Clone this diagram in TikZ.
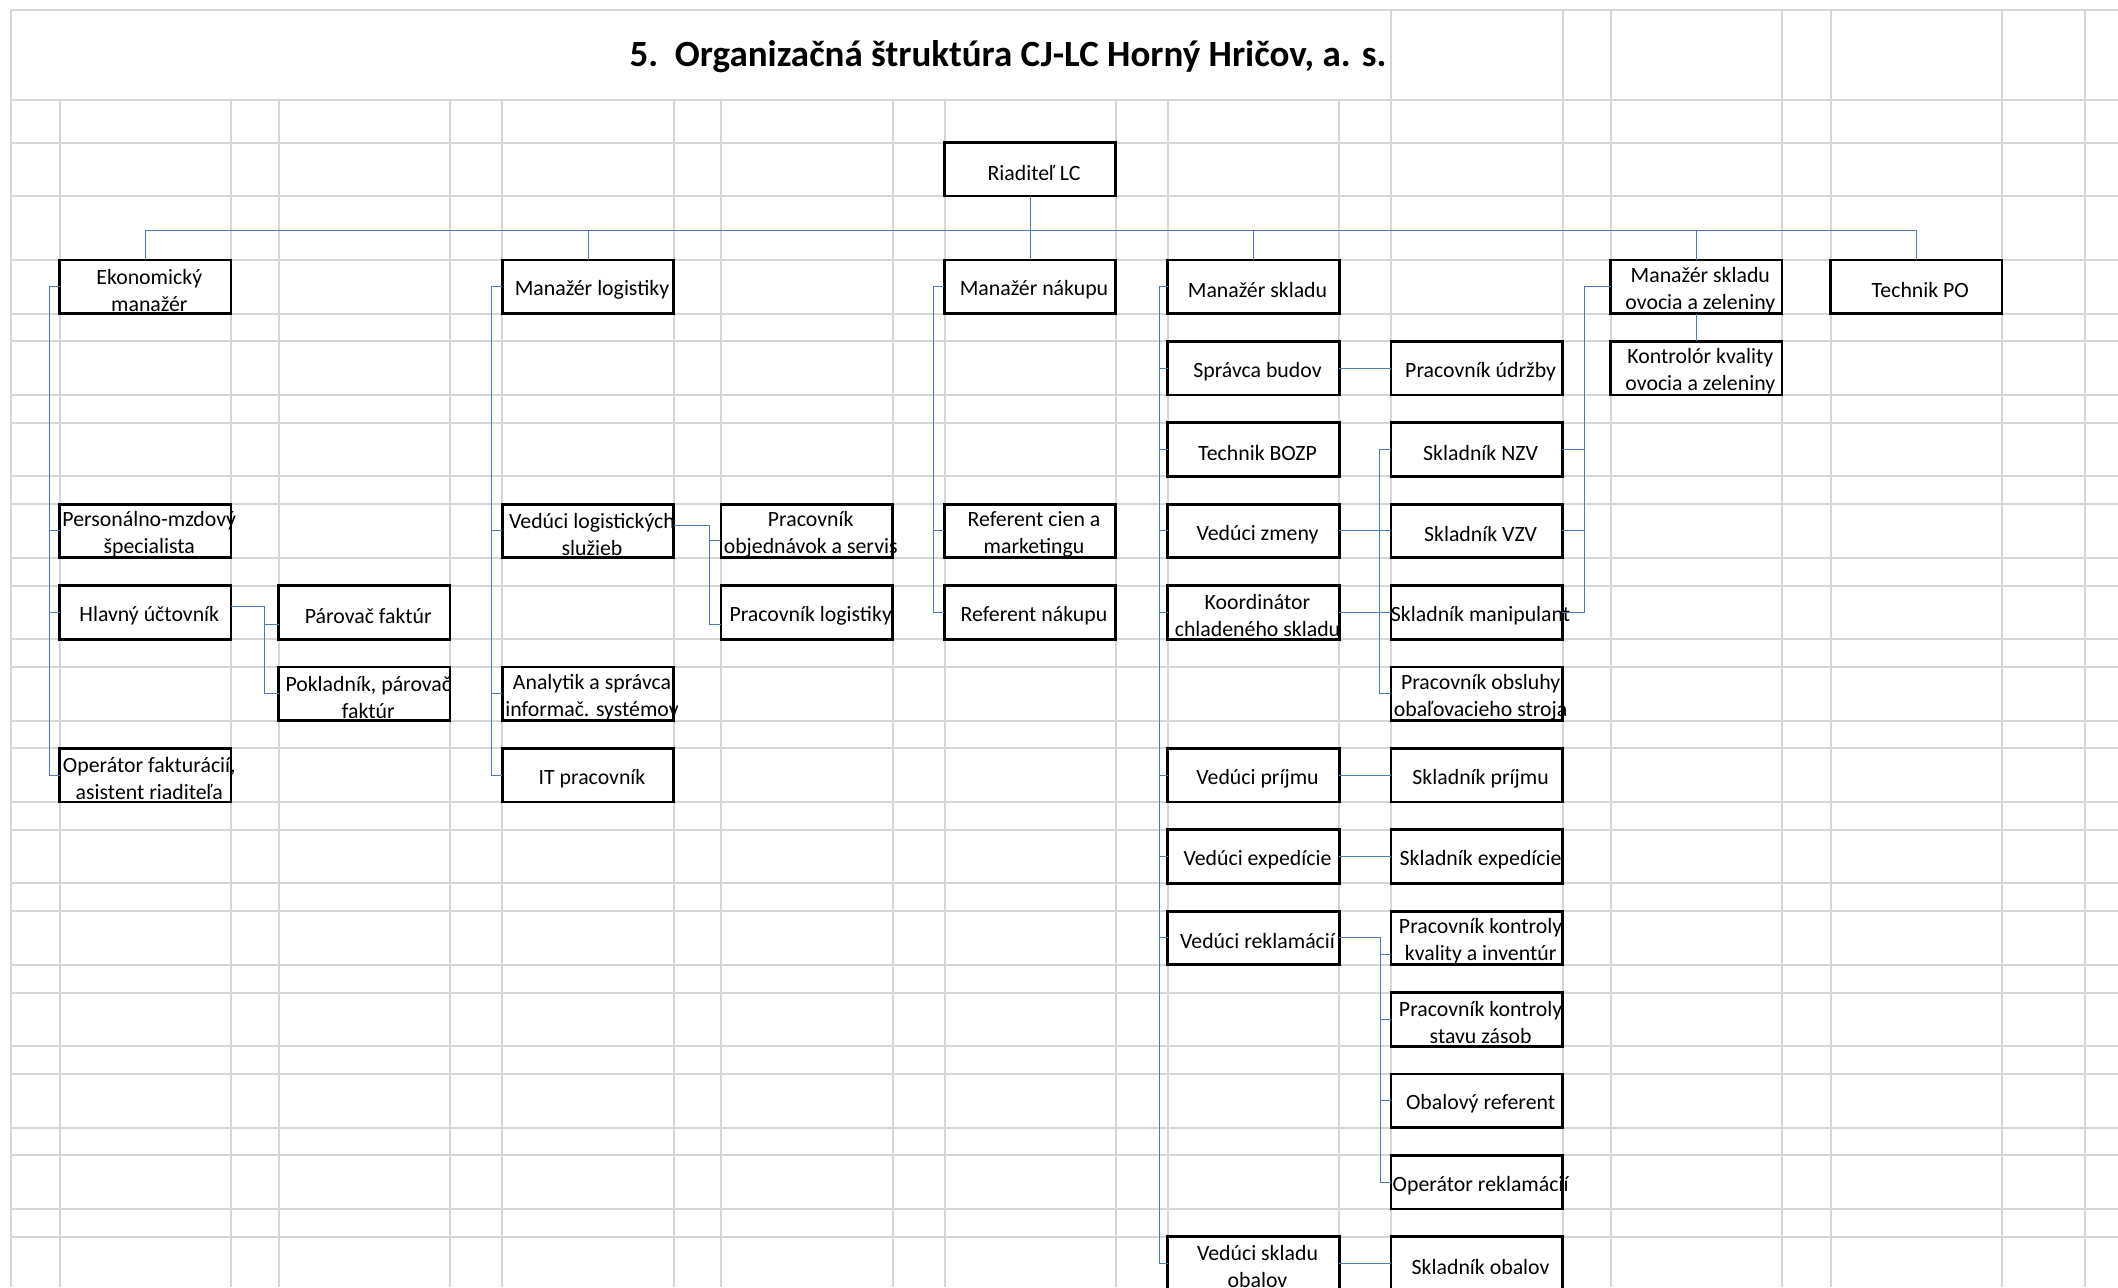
\documentclass[tikz,border=0pt]{standalone}
\usepackage{fontspec}
\setmainfont{Carlito}
\usetikzlibrary{calc}

\definecolor{modrasp}{RGB}{74,126,187}
\definecolor{sivagrid}{RGB}{214,214,214}

\begin{document}
\begin{tikzpicture}[x=0.5pt, y=-0.5pt,
    mriezka/.style={draw=sivagrid, line width=1pt},
    pozicia/.style={
      draw,
      fill=white,
      line width=1.4pt,
      minimum width=85.7pt,
      minimum height=26.75pt,
      inner sep=0pt,
      outer sep=0pt
    },
    popis/.style={
      align=center,
      inner sep=0pt,
      xshift=2pt,
      yshift=-1.7pt,
      font=\fontsize{10.9}{13.5}\selectfont
    },
    spoj/.style={draw=modrasp, line width=0.5pt},
    nadpis/.style={font=\bfseries\fontsize{18.5}{22}\selectfont}
  ]

  \useasboundingbox (0,0) rectangle (2118,1287);
  \clip (0,0) rectangle (2118,1287);
  \fill[white] (0,0) rectangle (2118,1287);

  % mriezka hárku {{{
  \foreach \gx in {59.6,231,278.6,450,502,674,721,892.5,944.5,1115.5,1168,1339}
    \draw[mriezka] (\gx,100) -- (\gx,1287);
  \foreach \gx in {1390.6,1562.7,1610.6,1782,1830.6,2002,2085}
    \draw[mriezka] (\gx,10) -- (\gx,1287);
  \draw[mriezka] (2118,10) -| (11,1287);
  \foreach \gy in {100,142.7,195.7}
    \draw[mriezka] (11,\gy) -- (2118,\gy);
  \foreach \k in {0,...,12} {
    \pgfmathsetmacro\rtop{260+81.4*\k}
    \draw[mriezka] (11,\rtop) -- (2118,\rtop);
    \draw[mriezka] (11,{\rtop+53.5}) -- (2118,{\rtop+53.5});
  }
  % }}}

  \node[nadpis] (titul) at (1008,57)
    {5.\ \ Organizačná štruktúra CJ-LC Horný Hričov, a. s.};

  % vedenie {{{
  \node[pozicia, label={[popis]center:Riaditeľ LC}] (riad) at (1030,169.2) {};
  \node[pozicia, label={[popis]center:Ekonomický\\manažér}] (ekon) at (145.3,286.75) {};
  \node[pozicia, label={[popis]center:Manažér logistiky}] (logi) at (588,286.75) {};
  \node[pozicia, label={[popis]center:Manažér nákupu}] (nakup) at (1030,286.75) {};
  \node[pozicia, label={[popis]center:Manažér skladu}] (sklad) at (1253.5,286.75) {};
  \node[pozicia, label={[popis]center:Manažér skladu\\ovocia a zeleniny}] (ovoc) at (1696.3,286.75) {};
  \node[pozicia, label={[popis]center:Technik PO}] (tpo) at (1916.3,286.75) {};
  % }}}

  % ekonomický úsek {{{
  \node[pozicia, label={[popis]center:Personálno-mzdový\\špecialista}] (pers) at (145.3,530.95) {};
  \node[pozicia, label={[popis]center:Hlavný účtovník}] (hlav) at (145.3,612.35) {};
  \node[pozicia, label={[popis]center:Operátor fakturácií,\\asistent riaditeľa}] (opfak) at (145.3,775.15) {};
  \node[pozicia, label={[popis]center:Párovač faktúr}] (parov) at (364.3,612.35) {};
  \node[pozicia, label={[popis]center:Pokladník, párovač\\faktúr}] (pokl) at (364.3,693.75) {};
  % }}}

  % logistika {{{
  \node[pozicia, label={[popis]center:Vedúci logistických\\služieb}] (vlog) at (588,530.95) {};
  \node[pozicia, label={[popis]center:Analytik a správca\\informač. systémov}] (anal) at (588,693.75) {};
  \node[pozicia, label={[popis]center:IT pracovník}] (itprac) at (588,775.15) {};
  \node[pozicia, label={[popis]center:Pracovník\\objednávok a servis}] (pracobj) at (806.7,530.95) {};
  \node[pozicia, label={[popis]center:Pracovník logistiky}] (praclog) at (806.7,612.35) {};
  % }}}

  % nákup {{{
  \node[pozicia, label={[popis]center:Referent cien a\\marketingu}] (refcien) at (1030,530.95) {};
  \node[pozicia, label={[popis]center:Referent nákupu}] (refnak) at (1030,612.35) {};
  % }}}

  % sklad {{{
  \node[pozicia, label={[popis]center:Správca budov}] (sprava) at (1253.5,368.15) {};
  \node[pozicia, label={[popis]center:Technik BOZP}] (bozp) at (1253.5,449.55) {};
  \node[pozicia, label={[popis]center:Vedúci zmeny}] (vzmeny) at (1253.5,530.95) {};
  \node[pozicia, label={[popis]center:Koordinátor\\chladeného skladu}] (koord) at (1253.5,612.35) {};
  \node[pozicia, label={[popis]center:Vedúci príjmu}] (vprij) at (1253.5,775.15) {};
  \node[pozicia, label={[popis]center:Vedúci expedície}] (vexp) at (1253.5,856.55) {};
  \node[pozicia, label={[popis]center:Vedúci reklamácií}] (vrekl) at (1253.5,937.95) {};
  \node[pozicia, label={[popis]center:Vedúci skladu\\obalov}] (vsobal) at (1253.5,1263.55) {};

  \node[pozicia, label={[popis]center:Pracovník údržby}] (udrz) at (1476.6,368.15) {};
  \node[pozicia, label={[popis]center:Skladník NZV}] (nzv) at (1476.6,449.55) {};
  \node[pozicia, label={[popis]center:Skladník VZV}] (vzv) at (1476.6,530.95) {};
  \node[pozicia, label={[popis]center:Skladník manipulant}] (manip) at (1476.6,612.35) {};
  \node[pozicia, label={[popis]center:Pracovník obsluhy\\obaľovacieho stroja}] (obsl) at (1476.6,693.75) {};
  \node[pozicia, label={[popis]center:Skladník príjmu}] (sprij) at (1476.6,775.15) {};
  \node[pozicia, label={[popis]center:Skladník expedície}] (sexp) at (1476.6,856.55) {};
  \node[pozicia, label={[popis]center:Pracovník kontroly\\kvality a inventúr}] (kval) at (1476.6,937.95) {};
  \node[pozicia, label={[popis]center:Pracovník kontroly\\stavu zásob}] (zasob) at (1476.6,1019.35) {};
  \node[pozicia, label={[popis]center:Obalový referent}] (obref) at (1476.6,1100.75) {};
  \node[pozicia, label={[popis]center:Operátor reklamácií}] (oprekl) at (1476.6,1182.15) {};
  \node[pozicia, label={[popis]center:Skladník obalov}] (sobal) at (1476.6,1263.55) {};

  \node[pozicia, label={[popis]center:Kontrolór kvality\\ovocia a zeleniny}] (kontr) at (1696.3,368.15) {};
  % }}}

  % spojnice od riaditeľa {{{
  \coordinate (zbernica) at ($(riad.south)+(0,35)$);
  \draw[spoj] (riad.south) -- (nakup.north);
  \draw[spoj] (ekon.north) |- (zbernica) -| (tpo.north);
  \foreach \b in {logi,sklad,ovoc}
    \draw[spoj] (\b.north) -- (\b.north |- zbernica);
  % }}}

  % ekonomický úsek {{{
  \draw[spoj] (ekon.west) -- ++(-10.6,0) |- (opfak.west);
  \foreach \b in {pers,hlav}
    \draw[spoj] (\b.west) -- ++(-10.6,0);
  \draw[spoj] ($(hlav.east)+(0,-5.6)$) -- ++(33.7,0) |- (pokl.west);
  \draw[spoj] ($(parov.west)+(0,12)$) -- ++(-13.9,0);
  % }}}

  % logistika {{{
  \draw[spoj] (logi.west) -- ++(-11,0) |- (itprac.west);
  \foreach \b in {vlog,anal}
    \draw[spoj] (\b.west) -- ++(-11,0);
  \draw[spoj] ($(vlog.east)+(0,-5)$) -- ++(36,0) |- ($(praclog.west)+(0,12)$);
  \draw[spoj] ($(pracobj.west)+(0,10)$) -- ++(-11,0);
  % }}}

  % nákup {{{
  \draw[spoj] (nakup.west) -- ++(-11,0) |- (refnak.west);
  \draw[spoj] (refcien.west) -- ++(-11,0);
  % }}}

  % sklad {{{
  \draw[spoj] (sklad.west) -- ++(-8.5,0) |- (vsobal.west);
  \foreach \b in {sprava,bozp,vzmeny,koord,vprij,vexp,vrekl}
    \draw[spoj] (\b.west) -- ++(-8.5,0);

  \draw[spoj] (sprava.east) -- (udrz.west);
  \draw[spoj] (vzmeny.east) -- (vzv.west);
  \draw[spoj] (nzv.west) -- ++(-11,0) |- (obsl.west);
  \draw[spoj] (koord.east) -- (manip.west);
  \draw[spoj] (vprij.east) -- (sprij.west);
  \draw[spoj] (vexp.east) -- (sexp.west);
  \draw[spoj] (vsobal.east) -- (sobal.west);

  \draw[spoj] (vrekl.east) -- ++(41.5,0) |- (oprekl.west);
  \draw[spoj] ($(kval.west)+(0,17)$) -- ++(-10.1,0);
  \foreach \b in {zasob,obref}
    \draw[spoj] (\b.west) -- ++(-10.1,0);

  \draw[spoj] (ovoc.west) -- ++(-26.6,0) |- (manip.east);
  \foreach \b in {nzv,vzv}
    \draw[spoj] (\b.east) -- ++(21.3,0);
  \draw[spoj] (ovoc.south) -- (kontr.north);
  % }}}

\end{tikzpicture}
\end{document}
